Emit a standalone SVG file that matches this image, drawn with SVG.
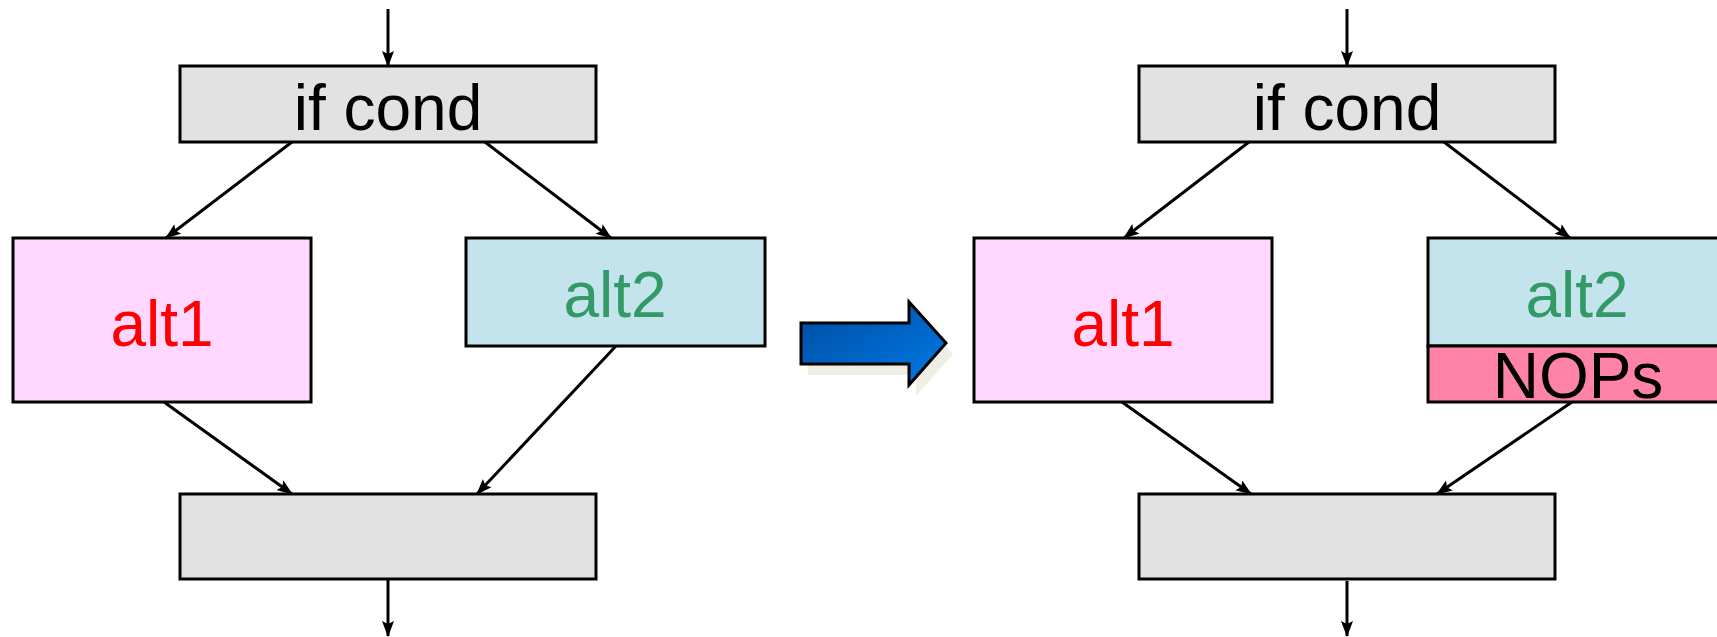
<svg xmlns="http://www.w3.org/2000/svg" width="1717" height="637" viewBox="0 0 1717 637">
  <style>
    .box { stroke: #000; stroke-width: 3; }
    .gray { fill: #E2E2E2; }
    .pink { fill: #FFD7FF; }
    .blue { fill: #C3E4EC; }
    .nops { fill: #FF82A9; }
    .lbl { font-family: "Liberation Sans", Arial, sans-serif; font-size: 64px; text-anchor: middle; }
    .edge { stroke: #000; stroke-width: 3; fill: none; marker-end: url(#head); }
  </style>
  <defs>
    <marker id="head" markerUnits="userSpaceOnUse" markerWidth="18" markerHeight="14" refX="15" refY="6" orient="auto">
      <path d="M0,0 L16,6 L0,12 L3,6 Z" fill="#000"/>
    </marker>
    <linearGradient id="blueFill" x1="0" y1="0" x2="1" y2="1">
      <stop offset="0" stop-color="#004C9E"/>
      <stop offset="1" stop-color="#007AE8"/>
    </linearGradient>
  </defs>
  <rect width="1717" height="637" fill="#fff"/>

  <!-- left flow: original branches -->
  <g id="L-if">
    <rect class="box gray" x="180" y="66" width="416" height="76"/>
    <text class="lbl" x="388" y="130" fill="#000">if cond</text>
  </g>
  <g id="L-alt1">
    <rect class="box pink" x="13" y="238" width="298" height="164"/>
    <text class="lbl" x="162" y="346" fill="#FF0000">alt1</text>
  </g>
  <g id="L-alt2">
    <rect class="box blue" x="466" y="238" width="299" height="108"/>
    <text class="lbl" x="615" y="317" fill="#339966">alt2</text>
  </g>
  <g id="L-join">
    <rect class="box gray" x="180" y="494" width="416" height="85"/>
  </g>

  <!-- transformation arrow -->
  <g id="transform-arrow">
    <polygon points="808,334 916,334 916,313 953,354 916,396 916,375 808,375" fill="#EEEEE5"/>
    <polygon points="801,323 909,323 909,302 946,343 909,385 909,364 801,364" fill="url(#blueFill)" stroke="#000" stroke-width="3"/>
  </g>

  <!-- right flow: shorter branch padded with NOPs -->
  <g id="R-if">
    <rect class="box gray" x="1139" y="66" width="416" height="76"/>
    <text class="lbl" x="1347" y="130" fill="#000">if cond</text>
  </g>
  <g id="R-alt1">
    <rect class="box pink" x="974" y="238" width="298" height="164"/>
    <text class="lbl" x="1123" y="346" fill="#FF0000">alt1</text>
  </g>
  <g id="R-alt2">
    <rect class="box blue" x="1428" y="238" width="300" height="108"/>
    <text class="lbl" x="1577" y="317" fill="#339966">alt2</text>
  </g>
  <g id="R-nops">
    <rect class="box nops" x="1428" y="346" width="300" height="56"/>
    <text class="lbl" x="1578" y="398" fill="#000">NOPs</text>
  </g>
  <g id="R-join">
    <rect class="box gray" x="1139" y="494" width="416" height="85"/>
  </g>

  <g id="connectors">
    <line class="edge" x1="388" y1="9" x2="388" y2="66"/>
    <line class="edge" x1="292" y1="142" x2="166" y2="238"/>
    <line class="edge" x1="485" y1="142" x2="611" y2="238"/>
    <line class="edge" x1="164" y1="402" x2="292" y2="494"/>
    <line class="edge" x1="616" y1="346" x2="477" y2="494"/>
    <line class="edge" x1="388" y1="580" x2="388" y2="636"/>

    <line class="edge" x1="1347" y1="9" x2="1347" y2="66"/>
    <line class="edge" x1="1249" y1="142" x2="1124" y2="238"/>
    <line class="edge" x1="1444" y1="142" x2="1570" y2="238"/>
    <line class="edge" x1="1122" y1="402" x2="1251" y2="494"/>
    <line class="edge" x1="1572" y1="402" x2="1437" y2="494"/>
    <line class="edge" x1="1347" y1="581" x2="1347" y2="636"/>
  </g>
</svg>
